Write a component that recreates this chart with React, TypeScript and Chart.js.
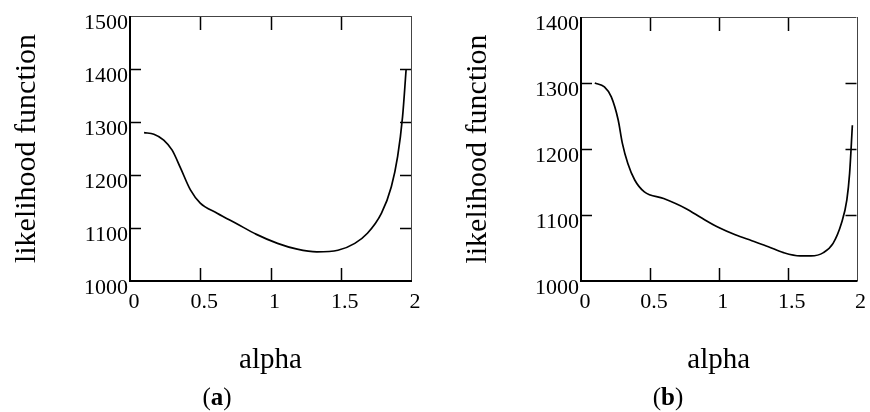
import React, { useEffect, useRef } from "react";
import { Chart, registerables } from "chart.js";

Chart.register(...registerables);

// ---- Data: panel (a) ----
const alphaA = [0.1, 0.17, 0.24, 0.3, 0.36, 0.43, 0.5, 0.62, 0.76, 0.9, 1.05, 1.19, 1.33, 1.48, 1.6, 1.69, 1.79, 1.86, 1.905, 1.94, 1.965];
const likelihoodA = [1280, 1277, 1266, 1247, 1213, 1172, 1147, 1128, 1108, 1088, 1071, 1060, 1055, 1058, 1071, 1090, 1128, 1178, 1235, 1310, 1398];

// ---- Data: panel (b) ----
const alphaB = [0.1, 0.17, 0.22, 0.27, 0.3, 0.34, 0.39, 0.46, 0.6, 0.76, 0.88, 1.0, 1.12, 1.24, 1.36, 1.47, 1.59, 1.67, 1.76, 1.83, 1.89, 1.93, 1.95, 1.97];
const likelihoodB = [1300, 1294, 1279, 1244, 1209, 1178, 1153, 1135, 1125, 1110, 1095, 1081, 1070, 1061, 1052, 1043, 1038, 1038, 1043, 1057, 1087, 1123, 1163, 1236];

// ---- Axes ----
const xMin = 0;
const xMax = 2;
const xStep = 0.5;
const yMinA = 1000;
const yMaxA = 1500;
const yMinB = 1000;
const yMaxB = 1400;
const yStep = 100;

const xTitle = "alpha";
const yTitle = "likelihood function";
const captions = ["a", "b"];

const SERIF = "'Liberation Serif', 'Times New Roman', serif";

const framePlugin = {
  id: "frame",
  afterDatasetsDraw(chart: any) {
    const { ctx, chartArea } = chart;
    const { left, right, top, bottom } = chartArea;
    const xs = chart.scales.x;
    const ys = chart.scales.y;
    ctx.save();
    ctx.strokeStyle = "#000";
    ctx.lineWidth = 1.5;
    ctx.beginPath();
    xs.ticks.forEach((t: any) => {
      if (t.value <= xs.min || t.value >= xs.max) return;
      const px = Math.round(xs.getPixelForValue(t.value)) + 0.5;
      ctx.moveTo(px, bottom);
      ctx.lineTo(px, bottom - 13);
      ctx.moveTo(px, top);
      ctx.lineTo(px, top + 14);
    });
    ys.ticks.forEach((t: any) => {
      if (t.value <= ys.min || t.value >= ys.max) return;
      const py = Math.round(ys.getPixelForValue(t.value)) + 0.5;
      ctx.moveTo(left, py);
      ctx.lineTo(left + 11, py);
      ctx.moveTo(right, py);
      ctx.lineTo(right - 11, py);
    });
    ctx.stroke();
    // thin top/right border
    ctx.strokeStyle = "#444";
    ctx.lineWidth = 1;
    ctx.beginPath();
    ctx.moveTo(left, Math.round(top) + 0.5);
    ctx.lineTo(right, Math.round(top) + 0.5);
    ctx.moveTo(Math.round(right) + 0.5, top);
    ctx.lineTo(Math.round(right) + 0.5, bottom);
    ctx.stroke();
    // thick left/bottom border
    ctx.strokeStyle = "#000";
    ctx.lineWidth = 2;
    ctx.beginPath();
    ctx.moveTo(left, top);
    ctx.lineTo(left, bottom);
    ctx.lineTo(right + 1, bottom);
    ctx.stroke();
    ctx.restore();
  },
};

function makeChart(
  canvas: HTMLCanvasElement,
  xs: number[],
  ys: number[],
  yMin: number,
  yMax: number,
  yAxisWidth: number,
  yTitlePad: number,
  padding: { left: number; right: number; top: number; bottom: number }
) {
  return new Chart(canvas, {
    type: "line",
    data: {
      datasets: [
        {
          data: xs.map((x, i) => ({ x, y: ys[i] })),
          borderColor: "#000",
          borderWidth: 1.7,
          pointRadius: 0,
          fill: false,
          cubicInterpolationMode: "monotone",
        },
      ],
    },
    options: {
      animation: false,
      responsive: false,
      devicePixelRatio: 1,
      layout: { padding },
      plugins: {
        legend: { display: false },
        tooltip: { enabled: false },
      },
      scales: {
        x: {
          type: "linear",
          min: xMin,
          max: xMax,
          grid: { display: false, drawTicks: false },
          border: { display: false },
          ticks: {
            stepSize: xStep,
            autoSkip: false,
            maxRotation: 0,
            padding: 8,
            labelOffset: 4,
            color: "#000",
            font: { family: SERIF, size: 22 },
            callback: (v: any) => String(v),
          },
          title: {
            display: true,
            text: xTitle,
            color: "#000",
            font: { family: SERIF, size: 29, lineHeight: 1 },
            padding: { top: 0, bottom: 0 },
          },
          afterFit: (s: any) => {
            s.height = 94;
          },
        },
        y: {
          type: "linear",
          min: yMin,
          max: yMax,
          grid: { display: false, drawTicks: false },
          border: { display: false },
          ticks: {
            stepSize: yStep,
            autoSkip: false,
            padding: 2,
            labelOffset: 7,
            color: "#000",
            font: { family: SERIF, size: 22 },
            callback: (v: any) => String(v),
          },
          title: {
            display: true,
            text: yTitle,
            color: "#000",
            font: { family: SERIF, size: 30, lineHeight: 1 },
            padding: { top: yTitlePad, bottom: 0 },
          },
          afterFit: (s: any) => {
            s.width = yAxisWidth;
          },
        },
      },
    },
    plugins: [framePlugin],
  } as any);
}

export default function App() {
  const refA = useRef<HTMLCanvasElement>(null);
  const refB = useRef<HTMLCanvasElement>(null);

  useEffect(() => {
    const a = makeChart(refA.current!, alphaA, likelihoodA, yMinA, yMaxA, 130, 12, {
      left: 0,
      right: 24,
      top: 16,
      bottom: 37,
    });
    const b = makeChart(refB.current!, alphaB, likelihoodB, yMinB, yMaxB, 146, 28, {
      left: 0,
      right: 10,
      top: 17,
      bottom: 37,
    });
    return () => {
      a.destroy();
      b.destroy();
    };
  }, []);

  const captionStyle = (cx: number): React.CSSProperties => ({
    position: "absolute",
    left: cx - 40,
    width: 80,
    top: 384,
    textAlign: "center",
    fontFamily: SERIF,
    fontSize: 25,
    lineHeight: "25px",
    color: "#000",
  });

  return (
    <div
      style={{
        position: "fixed",
        left: 0,
        top: 0,
        width: 870,
        height: 412,
        background: "#fff",
        overflow: "hidden",
      }}
    >
      <canvas ref={refA} width={435} height={412} style={{ position: "absolute", left: 0, top: 0 }} />
      <canvas ref={refB} width={435} height={412} style={{ position: "absolute", left: 435, top: 0 }} />
      <div style={captionStyle(217)}>
        (<b>{captions[0]}</b>)
      </div>
      <div style={captionStyle(668)}>
        (<b>{captions[1]}</b>)
      </div>
    </div>
  );
}
